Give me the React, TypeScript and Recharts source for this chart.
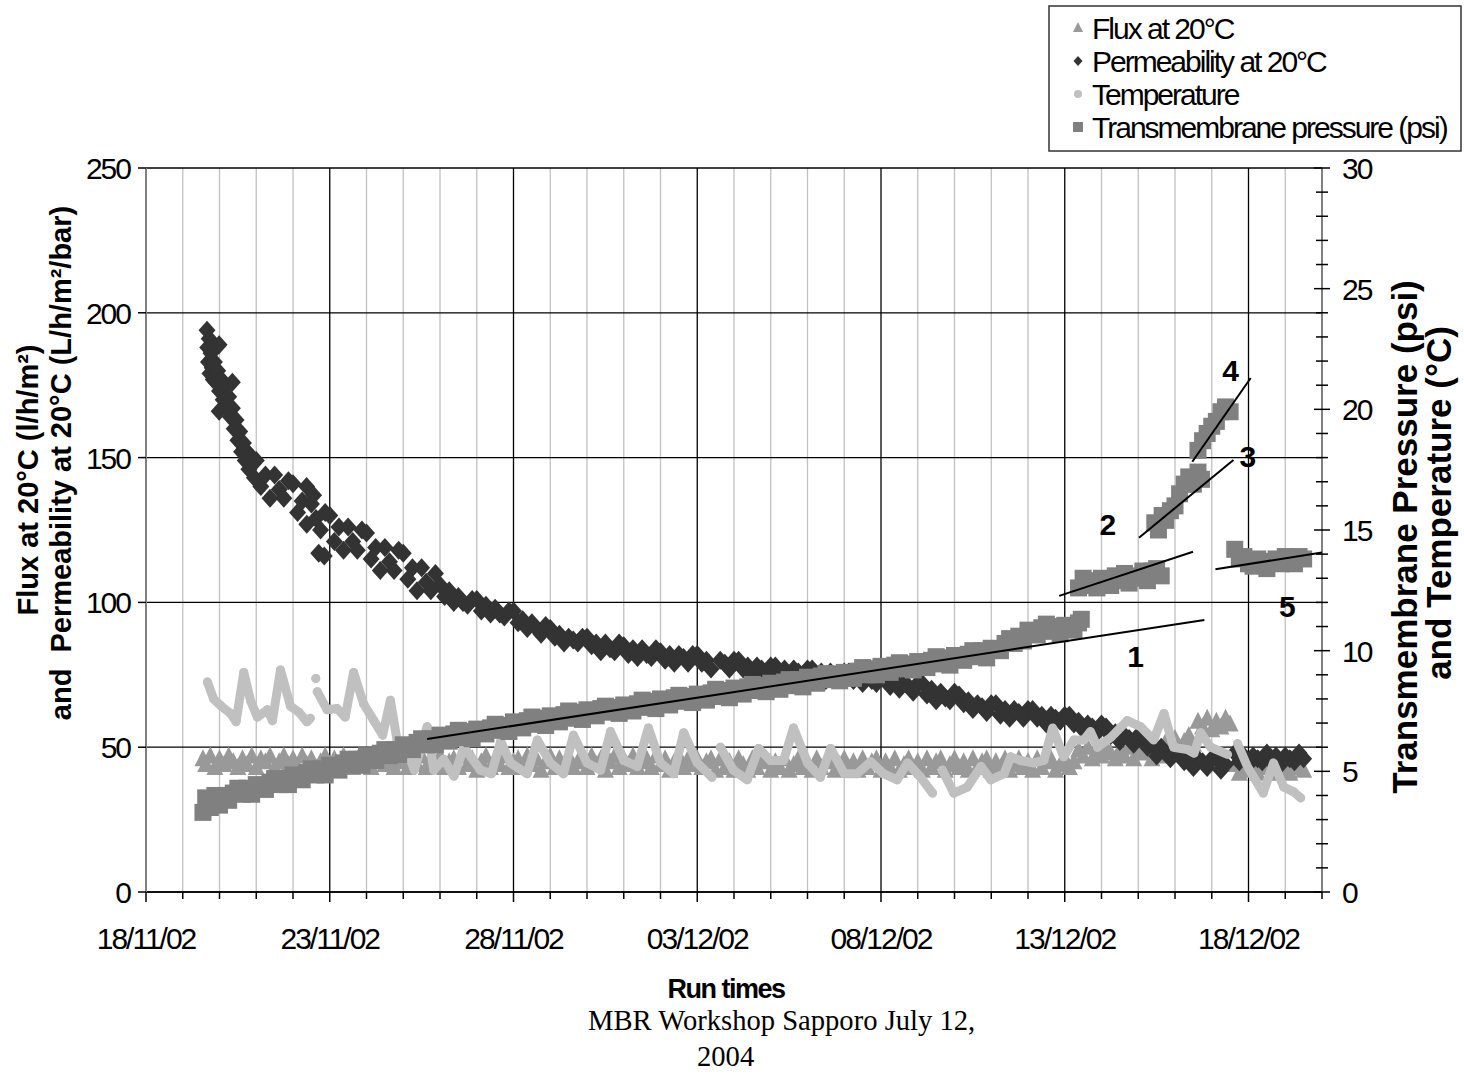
import React from "react"
import { ComposedChart, Scatter, Line, XAxis, YAxis, CartesianGrid } from "recharts"

const SANS = '"Liberation Sans", Arial, sans-serif'
const SERIF = '"Liberation Serif", "Times New Roman", serif'

// run days, counted from 18/11/02
const dayTicks = [0, 1, 2, 3, 4, 5, 6, 7, 8, 9, 10, 11, 12, 13, 14, 15, 16, 17, 18, 19, 20, 21, 22, 23, 24, 25, 26, 27, 28, 29, 30, 31, 32]
const dateLabels = ["18/11/02", "23/11/02", "28/11/02", "03/12/02", "08/12/02", "13/12/02", "18/12/02"]
const fluxTicks = [0, 50, 100, 150, 200, 250]
const psiTicks = [0, 1, 2, 3, 4, 5, 6, 7, 8, 9, 10, 11, 12, 13, 14, 15, 16, 17, 18, 19, 20, 21, 22, 23, 24, 25, 26, 27, 28, 29, 30]

// flux at 20°C, [day, l/h/m²]
const flux: [number, number][] = [
  [1.55, 46], [1.625, 44], [1.75, 47], [1.875, 43], [2, 46], [2.125, 44], [2.25, 47], [2.375, 45], [2.5, 43], [2.625, 46],
  [2.75, 44], [2.875, 47], [3, 43], [3.125, 46], [3.25, 45], [3.375, 47], [3.5, 43], [3.625, 45], [3.75, 47], [3.875, 44],
  [4, 46], [4.125, 43], [4.25, 47], [4.375, 44], [4.5, 46], [4.625, 43], [4.75, 45], [4.875, 47], [5, 44], [5.125, 46],
  [5.25, 43], [5.375, 47], [5.5, 45], [5.625, 43], [5.75, 46], [5.875, 44], [6, 47], [6.125, 43], [6.25, 45], [6.375, 47],
  [6.5, 44], [6.625, 46], [6.75, 43], [6.875, 47], [7, 45], [7.125, 43], [7.25, 46], [7.375, 44], [7.5, 47], [7.625, 43],
  [7.75, 46], [7.875, 44],
  [8, 47], [8.125, 43], [8.25, 45], [8.375, 46], [8.5, 43], [8.625, 47], [8.75, 44], [8.875, 46], [9, 42], [9.125, 45],
  [9.25, 47], [9.375, 43], [9.5, 46], [9.625, 44], [9.75, 47], [9.875, 43], [10, 45], [10.125, 46], [10.25, 43], [10.375, 47],
  [10.5, 44], [10.625, 46], [10.75, 42], [10.875, 45], [11, 47], [11.125, 43], [11.25, 46], [11.375, 44], [11.5, 47], [11.625, 43],
  [11.75, 45], [11.875, 46], [12, 43], [12.125, 47], [12.25, 44], [12.375, 46], [12.5, 42], [12.625, 45], [12.75, 47], [12.875, 43],
  [13, 46], [13.125, 44], [13.25, 47], [13.375, 43], [13.5, 45], [13.625, 46], [13.75, 43], [13.875, 47], [14, 44], [14.125, 46],
  [14.25, 42], [14.375, 45], [14.5, 47], [14.625, 43], [14.75, 46], [14.875, 44],
  [15, 46], [15.125, 43], [15.25, 45], [15.375, 46], [15.5, 42], [15.625, 46], [15.75, 43], [15.875, 45], [16, 42], [16.125, 46],
  [16.25, 44], [16.375, 42], [16.5, 46], [16.625, 43], [16.75, 45], [16.875, 46], [17, 42], [17.125, 45], [17.25, 43], [17.375, 46],
  [17.5, 42], [17.625, 44], [17.75, 46], [17.875, 43], [18, 45], [18.125, 42], [18.25, 46], [18.375, 43], [18.5, 45], [18.625, 46],
  [18.75, 42], [18.875, 44], [19, 46], [19.125, 43], [19.25, 45], [19.375, 42], [19.5, 46], [19.625, 43], [19.75, 45], [19.875, 46],
  [20, 42], [20.125, 45], [20.25, 43], [20.375, 46], [20.5, 42], [20.625, 44], [20.75, 46], [20.875, 43], [21, 45], [21.125, 42],
  [21.25, 46], [21.375, 43], [21.5, 45], [21.625, 46], [21.75, 42], [21.875, 44], [22, 46], [22.125, 43], [22.25, 45], [22.375, 42],
  [22.5, 46], [22.625, 43], [22.75, 45], [22.875, 46], [23, 42], [23.125, 45], [23.25, 43], [23.375, 46], [23.5, 42], [23.625, 44],
  [23.75, 46], [23.875, 43], [24, 45], [24.125, 42], [24.25, 46], [24.375, 43], [24.5, 45], [24.625, 46], [24.75, 42], [24.875, 44],
  [25, 46], [25.125, 43], [25.25, 45],
  [25.375, 49], [25.5, 47], [25.625, 50], [25.75, 46], [25.875, 49], [26, 47], [26.125, 50], [26.25, 48], [26.375, 46], [26.5, 49],
  [26.625, 47], [26.75, 50], [26.875, 46], [27, 49], [27.125, 48], [27.25, 50], [27.375, 46], [27.5, 49], [27.625, 47],
  [27.75, 52], [27.875, 50], [28, 53], [28.125, 50], [28.25, 52], [28.375, 54], [28.5, 51],
  [28.625, 59], [28.75, 57], [28.875, 60], [29, 56], [29.125, 59], [29.25, 57], [29.375, 60], [29.5, 58],
  [29.625, 44], [29.75, 41], [29.875, 43], [30, 42], [30.125, 44], [30.25, 41], [30.375, 43], [30.5, 44], [30.625, 41], [30.75, 43],
  [30.875, 42], [31, 44], [31.125, 41], [31.25, 43], [31.375, 44], [31.5, 42],
]

// permeability at 20°C, [day, L/h/m²/bar]
const permeability: [number, number][] = [
  [1.66, 194], [1.68, 188], [1.7, 183], [1.72, 191], [1.74, 179], [1.77, 186], [1.8, 181], [1.83, 177], [1.86, 183], [1.9, 176],
  [1.95, 180], [2, 173], [2.05, 177], [2.1, 170], [2.15, 174], [2.2, 167], [2.25, 171], [2.3, 164], [2.35, 167], [2.4, 160],
  [2.45, 163], [2.5, 156], [2.55, 159], [2.6, 152], [2.65, 155], [2.7, 149], [2.75, 152], [2.8, 146], [2.88, 150], [2.95, 143],
  [1.99, 189], [1.99, 166], [2.35, 176], [4.37, 140], [4.56, 137], [4.7, 117], [4.85, 116],
  [3, 149], [3.125, 140], [3.25, 144], [3.375, 136], [3.5, 144], [3.625, 139], [3.75, 136], [3.875, 142], [4, 141], [4.125, 131],
  [4.25, 135], [4.375, 127], [4.5, 134], [4.625, 129], [4.75, 125], [4.875, 131], [5, 130], [5.125, 121], [5.25, 126], [5.375, 118],
  [5.5, 126], [5.625, 121], [5.75, 118], [5.875, 125], [6, 124], [6.125, 115], [6.25, 119], [6.375, 111], [6.5, 119], [6.625, 114],
  [6.75, 111], [6.875, 118], [7, 117], [7.125, 108], [7.25, 112], [7.375, 104], [7.5, 112], [7.625, 107], [7.75, 104], [7.875, 110],
  [8, 106], [8.125, 102], [8.25, 104], [8.375, 100], [8.5, 102], [8.625, 100], [8.75, 99], [8.875, 101], [9, 101], [9.125, 97],
  [9.25, 99], [9.375, 96], [9.5, 98], [9.625, 96], [9.75, 95], [9.875, 97], [10, 97], [10.125, 93], [10.25, 94], [10.375, 91],
  [10.5, 93], [10.625, 91], [10.75, 89], [10.875, 92], [11, 91], [11.125, 88], [11.25, 89], [11.375, 86], [11.5, 88], [11.625, 87],
  [11.75, 86], [11.875, 88], [12, 88], [12.125, 85], [12.25, 86], [12.375, 83], [12.5, 86], [12.625, 84], [12.75, 83], [12.875, 86],
  [13, 85], [13.125, 82], [13.25, 84], [13.375, 81], [13.5, 84], [13.625, 82], [13.75, 81], [13.875, 84], [14, 83], [14.125, 80],
  [14.25, 82], [14.375, 79], [14.5, 82], [14.625, 81], [14.75, 79], [14.875, 82], [15, 82], [15.125, 79], [15.25, 80], [15.375, 77],
  [15.625, 80], [15.75, 79], [15.875, 77], [16, 80], [16.125, 80], [16.25, 77], [16.375, 78], [16.5, 75], [16.625, 78], [16.75, 77],
  [16.875, 76], [17, 78], [17.125, 78], [17.25, 75], [17.375, 77], [17.5, 74], [17.625, 77], [17.75, 76], [17.875, 75], [18, 77],
  [18.125, 77], [18.25, 74], [18.375, 76], [18.5, 73], [18.625, 76], [18.75, 75], [18.875, 74], [19, 76], [19.125, 76], [19.25, 73],
  [19.375, 75], [19.5, 72], [19.625, 75], [19.75, 73], [19.875, 72], [20, 75], [20.125, 75], [20.25, 71], [20.375, 73], [20.5, 70],
  [20.625, 72], [20.75, 71], [20.875, 69], [21, 72], [21.125, 72], [21.25, 68], [21.375, 70], [21.5, 66], [21.625, 69], [21.75, 67],
  [21.875, 66], [22, 69], [22.125, 68], [22.25, 65], [22.375, 66], [22.5, 63], [22.625, 65], [22.75, 64], [22.875, 62], [23, 65],
  [23.125, 65], [23.25, 61], [23.375, 63], [23.5, 60], [23.625, 63], [23.75, 62], [23.875, 60], [24, 63], [24.125, 63], [24.25, 60],
  [24.375, 61], [24.5, 58], [24.625, 61], [24.75, 60], [24.875, 59], [25, 61], [25.125, 61], [25.25, 58], [25.375, 59], [25.5, 56],
  [25.625, 58], [25.75, 57], [25.875, 55], [26, 58], [26.125, 57], [26.25, 54], [26.375, 55], [26.5, 52], [26.625, 54], [26.75, 53],
  [26.875, 51], [27, 54], [27.125, 53], [27.25, 50], [27.375, 51], [27.5, 47], [27.625, 50], [27.75, 48], [27.875, 46], [28, 48],
  [28.125, 48], [28.25, 45], [28.375, 47], [28.5, 43], [28.625, 46], [28.75, 45], [28.875, 43], [29, 46], [29.125, 46], [29.25, 42],
  [29.375, 44],
  [29.625, 48], [29.75, 45], [29.875, 47], [30, 44], [30.125, 47], [30.25, 46], [30.375, 45], [30.5, 48], [30.625, 45], [30.75, 47],
  [30.875, 44], [31, 47], [31.125, 46], [31.25, 45], [31.375, 48], [31.5, 46],
]

// transmembrane pressure, [day, psi]
const pressure: [number, number][] = [
  [1.55, 3.3], [1.625, 3.9], [1.75, 3.5], [1.875, 4.0], [2, 3.6], [2.125, 4.0], [2.25, 3.8], [2.375, 4.1],
  [2.5, 4.3], [2.625, 4.05], [2.75, 4.3], [2.875, 4.05], [3, 4.45], [3.125, 4.35], [3.25, 4.25], [3.375, 4.55],
  [3.5, 4.7], [3.625, 4.45], [3.75, 4.7], [3.875, 4.45], [4, 4.85], [4.125, 4.75], [4.25, 4.65], [4.375, 4.95],
  [4.5, 5.1], [4.625, 4.85], [4.75, 5.1], [4.875, 4.85], [5, 5.25], [5.125, 5.15], [5.25, 5.05], [5.375, 5.35],
  [5.5, 5.5], [5.625, 5.25], [5.75, 5.5], [5.875, 5.25], [6, 5.65], [6.125, 5.55], [6.25, 5.45], [6.375, 5.75],
  [6.5, 5.9], [6.625, 5.65], [6.75, 5.9], [6.875, 5.7], [7, 6.1], [7.125, 6.0], [7.25, 5.9], [7.375, 6.2],
  [7.5, 6.35], [7.625, 6.1], [7.75, 6.35], [7.875, 6.1], [8, 6.5], [8.125, 6.4], [8.25, 6.25], [8.375, 6.55],
  [8.5, 6.7], [8.625, 6.4], [8.75, 6.65], [8.875, 6.35], [9, 6.75], [9.125, 6.65], [9.25, 6.55], [9.375, 6.8],
  [9.5, 6.95], [9.625, 6.7], [9.75, 6.9], [9.875, 6.65], [10, 7.05], [10.125, 6.95], [10.25, 6.8], [10.375, 7.1],
  [10.5, 7.25], [10.625, 6.95], [10.75, 7.2], [10.875, 6.9], [11, 7.3], [11.125, 7.2], [11.25, 7.05], [11.375, 7.35],
  [11.5, 7.5], [11.625, 7.2], [11.75, 7.45], [11.875, 7.15], [12, 7.55], [12.125, 7.45], [12.25, 7.3], [12.375, 7.6],
  [12.5, 7.7], [12.625, 7.45], [12.75, 7.65], [12.875, 7.4], [13, 7.75], [13.125, 7.65], [13.25, 7.5], [13.375, 7.8],
  [13.5, 7.95], [13.625, 7.65], [13.75, 7.9], [13.875, 7.6], [14, 8.0], [14.125, 7.9], [14.25, 7.75], [14.375, 8.05],
  [14.5, 8.15], [14.625, 7.9], [14.75, 8.1], [14.875, 7.85], [15, 8.2], [15.125, 8.1], [15.25, 7.95], [15.375, 8.25],
  [15.5, 8.4], [15.625, 8.1], [15.75, 8.35], [15.875, 8.05], [16, 8.45], [16.125, 8.35], [16.25, 8.2], [16.375, 8.5],
  [16.5, 8.6], [16.625, 8.35], [16.75, 8.55], [16.875, 8.3], [17, 8.65], [17.125, 8.55], [17.25, 8.4], [17.375, 8.7],
  [17.5, 8.8], [17.625, 8.55], [17.75, 8.8], [17.875, 8.5], [18, 8.9], [18.125, 8.8], [18.25, 8.65], [18.375, 8.95],
  [18.5, 9.05], [18.625, 8.8], [18.75, 9.0], [18.875, 8.75], [19, 9.1], [19.125, 9.0], [19.25, 8.85], [19.375, 9.15],
  [19.5, 9.3], [19.625, 9.0], [19.75, 9.25], [19.875, 9.0], [20, 9.35], [20.125, 9.25], [20.25, 9.1], [20.375, 9.4],
  [20.5, 9.5], [20.625, 9.25], [20.75, 9.45], [20.875, 9.2], [21, 9.55], [21.125, 9.45], [21.25, 9.3], [21.375, 9.6],
  [21.5, 9.75], [21.625, 9.45], [21.75, 9.7], [21.875, 9.4], [22, 9.8], [22.125, 9.7], [22.25, 9.6], [22.375, 9.85],
  [22.5, 10.0], [22.625, 9.75], [22.75, 10.0], [22.875, 9.7], [23, 10.1], [23.125, 10.05], [23.25, 10.0], [23.375, 10.3],
  [23.5, 10.5], [23.625, 10.3], [23.75, 10.6], [23.875, 10.4], [24, 10.85], [24.125, 10.75], [24.25, 10.65], [24.375, 10.95],
  [24.5, 11.1], [24.625, 10.8], [24.75, 11.0], [24.875, 10.7], [25, 11.05], [25.125, 10.95], [25.25, 10.85], [25.375, 11.15],
  [25.45, 11.3],
  [25.375, 12.6], [25.5, 13.0], [25.625, 12.7], [25.75, 12.9], [25.875, 12.6], [26, 13.0], [26.125, 12.8], [26.25, 12.7],
  [26.375, 13.1], [26.5, 12.9], [26.625, 13.2], [26.75, 12.8], [26.875, 13.1], [27, 13.0], [27.125, 13.3], [27.25, 12.9],
  [27.375, 13.3], [27.5, 13.4], [27.625, 13.1],
  [27.45, 15.3], [27.55, 15.0], [27.65, 15.6], [27.75, 15.4], [27.875, 15.8], [28, 16.0], [28.125, 16.5], [28.25, 16.9],
  [28.375, 17.2], [28.5, 16.9], [28.625, 17.4], [28.72, 17.1],
  [28.625, 18.3], [28.75, 18.7], [28.875, 19.0], [29, 19.3], [29.125, 19.5], [29.25, 19.9], [29.375, 20.1], [29.5, 19.9],
  [29.625, 14.2], [29.75, 13.8], [29.875, 13.9], [30, 13.6], [30.125, 13.5], [30.25, 13.8], [30.375, 13.6], [30.5, 13.4],
  [30.625, 13.7], [30.75, 13.8], [30.875, 13.6], [31, 13.9], [31.125, 13.7], [31.25, 13.6], [31.375, 13.9], [31.5, 13.8],
]

// temperature, [day, °C]; null marks a logging gap
const temperature: [number, number | null][] = [
  [1.67, 8.7], [1.84, 8.0], [2.05, 7.7], [2.3, 7.4], [2.45, 7.05], [2.66, 9.1], [2.85, 7.9], [3.03, 7.25], [3.3, 7.55], [3.44, 7.1],
  [3.66, 9.2], [3.93, 7.7], [4.16, 7.45], [4.38, 7.05], [4.47, 7.2], [4.55, null],
  [4.62, 8.85], [4.64, null],
  [4.66, 8.3], [4.93, 7.55], [5.2, 7.6], [5.42, 7.25], [5.65, 9.1], [5.92, 7.8], [6.2, 7.1], [6.44, 6.5], [6.65, 7.95], [6.83, 6.3],
  [7.1, 5.9], [7.3, 5.05], [7.65, 6.85], [7.83, 5.05], [8.1, 5.5], [8.38, 4.8], [8.65, 6.0], [9.1, 5.05], [9.4, 4.9], [9.65, 6.25],
  [9.92, 5.35], [10.37, 4.9], [10.65, 6.3], [11, 5.35], [11.36, 4.9], [11.63, 6.5], [12, 5.35], [12.37, 5.05], [12.64, 6.65], [13, 5.45],
  [13.37, 5.2], [13.67, 6.8], [14, 5.35], [14.36, 4.9], [14.63, 6.6], [15, 5.35], [15.4, 4.75], [15.5, null],
  [15.63, 6.0], [15.98, 5.05], [16.36, 4.65], [16.67, 5.95], [16.99, 5.45], [17.35, 5.45], [17.62, 6.8], [18, 5.35], [18.35, 4.75], [18.63, 5.95],
  [19, 4.9], [19.35, 4.9], [19.72, 5.4], [20.07, 4.9], [20.44, 4.65], [20.72, 5.35], [21.08, 4.75], [21.4, 4.1], [21.5, null],
  [21.67, 5.05], [21.98, 4.1], [22.35, 4.35], [22.72, 5.2], [22.99, 4.65], [23.35, 4.9], [23.53, 5.6], [23.8, 5.45], [24.15, 5.35], [24.43, 5.45],
  [24.67, 6.8], [24.97, 5.6], [25.25, 6.3], [25.52, 6.3], [25.7, 6.65], [25.89, 6.0], [26.25, 6.4], [26.7, 7.1], [27.06, 6.85], [27.42, 6.3],
  [27.7, 7.4], [27.96, 6.0], [28.34, 5.9], [28.52, 5.75], [28.7, 6.6], [28.97, 6.0], [29.43, 5.7], [29.55, null],
  [29.7, 6.15], [29.97, 5.2], [30.4, 4.1], [30.68, 5.35], [30.96, 4.35], [31.23, 4.15], [31.42, 3.9],
]

// pressure trend fits: [startDay, startPsi, endDay, endPsi]
const fits: [number, number, number, number][] = [
  [7.65, 6.34, 28.8, 11.27],
  [24.85, 12.27, 28.49, 14.1],
  [27.02, 14.68, 29.59, 17.9],
  [28.47, 17.83, 30.06, 21.3],
  [29.1, 13.37, 32, 14.07],
]
const fitLabels: [string, number, number][] = [
  ["1", 26.93, 9.78],
  ["2", 26.17, 15.25],
  ["3", 29.98, 18.07],
  ["4", 29.51, 21.63],
  ["5", 31.06, 11.86],
]

const FLUX_GRAY = "#999999"
const PERM_DARK = "#333333"
const TEMP_LIGHT = "#c0c0c0"
const TMP_GRAY = "#808080"

const toPoints = (rows: [number, number | null][]) => rows.map(([day, v]) => ({ day, v }))

const fluxData = toPoints(flux)
const permData = toPoints(permeability)
const tmpData = toPoints(pressure)
const tempData = toPoints(temperature)
const fitData = fits.map(([d0, p0, d1, p1]) => [{ day: d0, v: p0 }, { day: d1, v: p1 }])
const labelData = fitLabels.map(([label, day, v]) => ({ day, v, label }))

const tickText: React.CSSProperties = { fontFamily: SANS, fontSize: 30, letterSpacing: "-2px", fill: "#000" }

// heavy markers so the logged points merge into bands
const Triangle = ({ cx, cy }: any) => (
  <polygon points={`${cx},${cy - 9.5} ${cx - 8.5},${cy + 7.5} ${cx + 8.5},${cy + 7.5}`} fill={FLUX_GRAY} />
)
const Diamond = ({ cx, cy }: any) => (
  <polygon points={`${cx},${cy - 9.5} ${cx + 8.5},${cy} ${cx},${cy + 9.5} ${cx - 8.5},${cy}`} fill={PERM_DARK} />
)
const Square = ({ cx, cy }: any) => <rect x={cx - 8.5} y={cy - 8.5} width={17} height={17} fill={TMP_GRAY} />
const FitLabel = (p: any) => (
  <text x={p.cx} y={p.cy + 11} textAnchor="middle" style={{ fontFamily: SANS, fontSize: 30, fontWeight: 700, fill: "#000" }}>
    {p.payload?.label}
  </text>
)
const TempDot = (p: any) =>
  p.cy == null || p.value == null ? <g key={p.key} /> : <circle key={p.key} cx={p.cx} cy={p.cy} r={4.5} fill={TEMP_LIGHT} />

const XTick = ({ x, y, payload }: any) => {
  const d = payload.value
  const major = d % 5 === 0
  return (
    <g>
      <line x1={x} y1={y} x2={x} y2={y + (major ? 10 : 7)} stroke="#000" strokeWidth={1.5} />
      {major && (
        <text x={x} y={y + 57} textAnchor="middle" style={tickText}>
          {dateLabels[d / 5]}
        </text>
      )}
    </g>
  )
}

const LeftTick = ({ x, y, payload }: any) => (
  <g>
    <line x1={x - 8} y1={y} x2={x} y2={y} stroke="#000" strokeWidth={1.5} />
    <text x={x - 16} y={y + 11} textAnchor="end" style={tickText}>
      {payload.value}
    </text>
  </g>
)

const RightTick = ({ x, y, payload }: any) => {
  const v = payload.value
  const major = v % 5 === 0
  return (
    <g>
      <line x1={x - (major ? 8 : 6)} y1={y} x2={x + (major ? 8 : 6)} y2={y} stroke="#000" strokeWidth={1.5} />
      {major && (
        <text x={x + 20} y={y + 11} textAnchor="start" style={tickText}>
          {v}
        </text>
      )}
    </g>
  )
}

const minorDays = dayTicks.filter((d) => d % 5 !== 0)
const majorDays = dayTicks.filter((d) => d % 5 === 0)

const dayToPx = (offset: any, d: number) => offset.left + (d / 32) * offset.width
const minorVertical = ({ offset }: any) => minorDays.map((d) => dayToPx(offset, d))
const majorVertical = ({ offset }: any) => majorDays.map((d) => dayToPx(offset, d))
const fluxHorizontal = ({ offset }: any) => fluxTicks.map((v) => offset.top + offset.height - (v / 250) * offset.height)

const legendItems = [
  { name: "Flux at 20°C", mark: "triangle", color: FLUX_GRAY },
  { name: "Permeability at 20°C", mark: "diamond", color: PERM_DARK },
  { name: "Temperature", mark: "circle", color: TEMP_LIGHT },
  { name: "Transmembrane pressure (psi)", mark: "square", color: TMP_GRAY },
]

function LegendMark({ mark, color, x, y }: { mark: string; color: string; x: number; y: number }) {
  if (mark === "triangle") return <polygon points={`${x},${y - 6} ${x - 5},${y + 4} ${x + 5},${y + 4}`} fill={color} />
  if (mark === "diamond") return <polygon points={`${x},${y - 5} ${x + 4.5},${y} ${x},${y + 5} ${x - 4.5},${y}`} fill={color} />
  if (mark === "circle") return <circle cx={x} cy={y} r={4} fill={color} />
  return <rect x={x - 5} y={y - 5} width={10} height={10} fill={color} />
}

export default function App() {
  return (
    <div style={{ position: "absolute", left: 0, top: 0, width: 1464, height: 1078, background: "#fff" }}>
      <ComposedChart width={1464} height={1078} margin={{ top: 168, right: 82, bottom: 126, left: 86 }}>
        <CartesianGrid
          yAxisId="left"
          horizontal={false}
          verticalCoordinatesGenerator={minorVertical}
          stroke="#c0c0c0"
          strokeWidth={1.3}
        />
        <CartesianGrid
          yAxisId="left"
          verticalCoordinatesGenerator={majorVertical}
          horizontalCoordinatesGenerator={fluxHorizontal}
          stroke="#000"
          strokeWidth={1.3}
        />
        <XAxis
          type="number"
          dataKey="day"
          domain={[0, 32]}
          ticks={dayTicks}
          interval={0}
          allowDataOverflow
          height={60}
          tickSize={0}
          tickMargin={0}
          tickLine={false}
          axisLine={{ stroke: "#000", strokeWidth: 1.5 }}
          tick={(p: any) => <XTick {...p} />}
        />
        <YAxis
          yAxisId="left"
          type="number"
          domain={[0, 250]}
          ticks={fluxTicks}
          interval={0}
          allowDataOverflow
          width={60}
          tickSize={0}
          tickMargin={0}
          tickLine={false}
          axisLine={{ stroke: "#808080", strokeWidth: 2 }}
          tick={(p: any) => <LeftTick {...p} />}
        />
        <YAxis
          yAxisId="right"
          orientation="right"
          type="number"
          domain={[0, 30]}
          ticks={psiTicks}
          interval={0}
          allowDataOverflow
          width={60}
          tickSize={0}
          tickMargin={0}
          tickLine={false}
          axisLine={{ stroke: "#808080", strokeWidth: 2 }}
          tick={(p: any) => <RightTick {...p} />}
        />
        <Scatter name="Flux at 20°C" yAxisId="left" data={fluxData} dataKey="v" shape={Triangle} isAnimationActive={false} zIndex={600} />
        <Scatter name="Permeability at 20°C" yAxisId="left" data={permData} dataKey="v" shape={Diamond} isAnimationActive={false} zIndex={610} />
        <Line
          name="Temperature"
          yAxisId="right"
          data={tempData}
          dataKey="v"
          type="linear"
          stroke={TEMP_LIGHT}
          strokeWidth={9}
          strokeLinejoin="round"
          strokeLinecap="round"
          connectNulls={false}
          dot={TempDot}
          activeDot={false}
          isAnimationActive={false}
          zIndex={620}
        />
        <Scatter name="Transmembrane pressure (psi)" yAxisId="right" data={tmpData} dataKey="v" shape={Square} isAnimationActive={false} zIndex={630} />
        {fitData.map((seg, i) => (
          <Line
            key={`fit-${i}`}
            yAxisId="right"
            data={seg}
            dataKey="v"
            type="linear"
            stroke="#000"
            strokeWidth={2}
            dot={false}
            activeDot={false}
            isAnimationActive={false}
            zIndex={640}
          />
        ))}
        <Scatter yAxisId="right" data={labelData} dataKey="v" shape={FitLabel} isAnimationActive={false} zIndex={650} />
      </ComposedChart>

      <svg width={1464} height={1078} style={{ position: "absolute", left: 0, top: 0, pointerEvents: "none" }}>
        {/* legend */}
        <rect x={1049} y={6} width={412} height={145} fill="#fff" stroke="#333" strokeWidth={1.5} />
        {legendItems.map((item, i) => {
          const baseline = 39 + i * 33
          return (
            <g key={item.name}>
              <LegendMark mark={item.mark} color={item.color} x={1078} y={baseline - 11} />
              <text x={1092} y={baseline} style={{ fontFamily: SANS, fontSize: 30, letterSpacing: "-2px", fill: "#000" }}>
                {item.name}
              </text>
            </g>
          )
        })}

        {/* left axis title */}
        <g style={{ fontFamily: SANS, fontSize: 29, fontWeight: 700, fill: "#000" }}>
          <text x={38} y={480} textAnchor="middle" transform="rotate(-90 38 480)">
            Flux at 20°C (l/h/m²)
          </text>
          <text x={71} y={463} textAnchor="middle" transform="rotate(-90 71 463)" style={{ whiteSpace: "pre" }}>
            and  Permeability at 20°C (L/h/m²/bar)
          </text>
        </g>

        {/* right axis title */}
        <g style={{ fontFamily: SANS, fontSize: 35, fontWeight: 700, fill: "#000" }}>
          <text x={1417} y={537} textAnchor="middle" transform="rotate(-90 1417 537)">
            Transmembrane Pressure (psi)
          </text>
          <text x={1451} y={503} textAnchor="middle" transform="rotate(-90 1451 503)">
            and Temperature (°C)
          </text>
        </g>

        <text x={726} y={998} textAnchor="middle" style={{ fontFamily: SANS, fontSize: 27, fontWeight: 700, letterSpacing: "-1.5px", fill: "#000" }}>
          Run times
        </text>
        <text x={588} y={1030} style={{ fontFamily: SERIF, fontSize: 28.6, fill: "#000" }}>
          MBR Workshop Sapporo July 12,
        </text>
        <text x={697} y={1066} style={{ fontFamily: SERIF, fontSize: 28.6, fill: "#000" }}>
          2004
        </text>
      </svg>
    </div>
  )
}
